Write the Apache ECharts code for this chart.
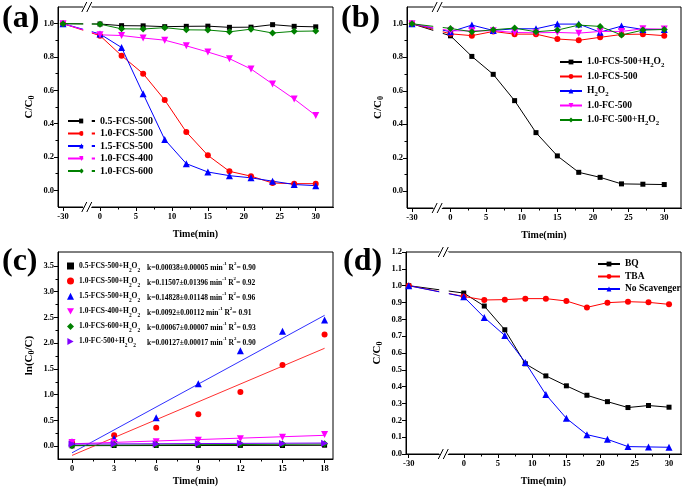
<!DOCTYPE html>
<html><head><meta charset="utf-8">
<script src="https://cdn.jsdelivr.net/npm/echarts@6.0.0/dist/echarts.min.js"></script>
<style>html,body{margin:0;padding:0;background:#fff}#c{width:685px;height:497px}</style>
</head><body><div id="c"></div>
<script>
// ---------- DATA ----------
const timeAB = [-30, 0, 3, 6, 9, 12, 15, 18, 21, 24, 27, 30];
// (a)
const a_names = ['0.5-FCS-500', '1.0-FCS-500', '1.5-FCS-500', '1.0-FCS-400', '1.0-FCS-600'];
const a_fcs05_500 = [1.0, 0.998, 0.988, 0.987, 0.982, 0.984, 0.985, 0.978, 0.979, 0.994, 0.984, 0.981];
const a_fcs10_500 = [1.0, 0.928, 0.808, 0.700, 0.542, 0.350, 0.210, 0.114, 0.085, 0.044, 0.040, 0.040];
const a_fcs15_500 = [1.0, 0.938, 0.857, 0.579, 0.305, 0.160, 0.110, 0.088, 0.075, 0.055, 0.035, 0.028];
const a_fcs10_400 = [1.0, 0.933, 0.929, 0.914, 0.901, 0.867, 0.830, 0.790, 0.728, 0.638, 0.548, 0.449];
const a_fcs10_600 = [1.0, 0.997, 0.969, 0.968, 0.976, 0.963, 0.962, 0.951, 0.967, 0.944, 0.954, 0.956];
// (b)
const b_names = ['1.0-FCS-500+H2O2', '1.0-FCS-500', 'H2O2', '1.0-FC-500', '1.0-FC-500+H2O2'];
const b_fcs500_h2o2 = [1.0, 0.928, 0.805, 0.698, 0.541, 0.350, 0.211, 0.113, 0.083, 0.044, 0.042, 0.040];
const b_fcs500 = [1.0, 0.940, 0.929, 0.954, 0.938, 0.938, 0.909, 0.901, 0.919, 0.936, 0.938, 0.929];
const b_h2o2 = [1.0, 0.952, 0.992, 0.960, 0.970, 0.970, 0.998, 0.998, 0.950, 0.986, 0.966, 0.966];
const b_fc500 = [1.0, 0.958, 0.958, 0.958, 0.948, 0.946, 0.948, 0.944, 0.954, 0.954, 0.970, 0.968];
const b_fc500_h2o2 = [1.0, 0.972, 0.952, 0.964, 0.974, 0.952, 0.962, 0.992, 0.984, 0.933, 0.962, 0.966];
// (c)
const timeC = [0, 3, 6, 9, 12, 15, 18];
const c_names = ['0.5-FCS-500+H2O2', '1.0-FCS-500+H2O2', '1.5-FCS-500+H2O2', '1.0-FCS-400+H2O2', '1.0-FCS-600+H2O2', '1.0-FC-500+H2O2'];
const c_kTexts = ['k=0.00038±0.00005 min^-1 R^2= 0.90', 'k=0.11507±0.01396 min^-1 R^2= 0.92', 'k=0.14828±0.01148 min^-1 R^2= 0.96',
                  'k=0.0092±0.00112 min^-1 R^2= 0.91', 'k=0.00067±0.00007 min^-1 R^2= 0.93', 'k=0.00127±0.00017 min^-1 R^2= 0.90'];
const c_fcs05_500 = [0.005, 0.012, 0.013, 0.015, 0.015, 0.012, 0.018];
const c_fcs10_500 = [0.070, 0.210, 0.355, 0.620, 1.050, 1.575, 2.170];
const c_fcs15_500 = [0.084, 0.150, 0.550, 1.210, 1.850, 2.230, 2.450];
const c_fcs10_400 = [0.071, 0.071, 0.084, 0.116, 0.142, 0.174, 0.226];
const c_fcs10_600 = [0.005, 0.030, 0.033, 0.025, 0.038, 0.040, 0.046];
const c_fc500 = [0.043, 0.043, 0.040, 0.051, 0.057, 0.053, 0.056];
const fitX = [0, 18];
const fit_fcs05_500 = [0.009, 0.016];
const fit_fcs10_500 = [-0.18, 1.90];
const fit_fcs15_500 = [-0.13, 2.54];
const fit_fcs10_400 = [0.045, 0.21];
const fit_fcs10_600 = [0.016, 0.040];
const fit_fc500 = [0.040, 0.060];
// (d)
const d_names = ['BQ', 'TBA', 'No Scavenger'];
const d_bq = [1.0, 0.956, 0.879, 0.738, 0.536, 0.464, 0.405, 0.349, 0.311, 0.276, 0.288, 0.278];
const d_tba = [1.0, 0.936, 0.915, 0.917, 0.923, 0.923, 0.909, 0.871, 0.899, 0.905, 0.901, 0.889];
const d_none = [1.0, 0.934, 0.811, 0.704, 0.544, 0.353, 0.212, 0.115, 0.087, 0.044, 0.042, 0.040];
// ticks
const ticksXAB = [-30, 0, 5, 10, 15, 20, 25, 30];
const minorXAB = [2.5, 7.5, 12.5, 17.5, 22.5, 27.5];
const ticksYAB = [0, 0.2, 0.4, 0.6, 0.8, 1.0];
const minorYAB = [0.1, 0.3, 0.5, 0.7, 0.9];
const ticksXC = [0, 3, 6, 9, 12, 15, 18];
const minorXC = [1.5, 4.5, 7.5, 10.5, 13.5, 16.5];
const ticksYC = [0, 0.5, 1.0, 1.5, 2.0, 2.5, 3.0, 3.5];
const minorYC = [0.25, 0.75, 1.25, 1.75, 2.25, 2.75, 3.25];
const ticksYD = [0, 0.1, 0.2, 0.3, 0.4, 0.5, 0.6, 0.7, 0.8, 0.9, 1.0, 1.1, 1.2];

// ---------- STYLE ----------
const FONT = 'Liberation Serif';
const BLACK = '#000000', RED = '#ff0000', BLUE = '#0000ff', MAG = '#ff00ff', GREEN = '#008000', PURPLE = '#8000ff';
const TRI_DOWN = 'path://M0,0 L10,0 L5,9 Z';
const TRI_RIGHT = 'path://M0,0 L9,5 L0,10 Z';

function zip(xs, ys) { return xs.map((x, i) => [x, ys[i]]); }
// series names carry a panel prefix so that legends of different panels stay separate
const P = (p, n) => p + '|' + n;
const strip = n => n.slice(n.indexOf('|') + 1);

function xAxes(g, min, max, major, minor, brk, nameGap) {
  const mk = () => {
    const o = { type: 'value', gridIndex: g, min: min, max: max, position: 'bottom', splitLine: { show: false } };
    if (brk) {
      o.breaks = [{ start: brk[0], end: brk[1], gap: brk[2] }];
      o.breakArea = { show: true, itemStyle: { color: '#fff', borderColor: '#fff', borderWidth: 0, opacity: 1 }, zigzagAmplitude: 0, expandOnClick: false };
    }
    return o;
  };
  const main = Object.assign(mk(), {
    name: 'Time(min)', nameLocation: 'middle', nameGap: nameGap,
    nameTextStyle: { fontFamily: FONT, fontWeight: 'bold', fontSize: 10, color: '#000' },
    axisLine: { show: true, onZero: false, lineStyle: { color: '#000', width: 1 } },
    axisTick: { show: true, inside: false, length: 4, customValues: major, lineStyle: { color: '#000', width: 1 } },
    axisLabel: { customValues: major, fontFamily: FONT, fontWeight: 'bold', fontSize: 8.5, color: '#000', margin: 5 }
  });
  const mn = Object.assign(mk(), {
    axisLine: { show: false, onZero: false }, axisLabel: { show: false },
    axisTick: { show: true, inside: false, length: 2.5, customValues: minor, lineStyle: { color: '#000', width: 1 } }
  });
  return [main, mn];
}
function yAxes(g, min, max, major, minor, name, nameGap, dec) {
  const main = {
    type: 'value', gridIndex: g, min: min, max: max, position: 'left', splitLine: { show: false },
    name: name, nameLocation: 'middle', nameGap: nameGap, nameRotate: 90,
    nameTextStyle: { fontFamily: FONT, fontWeight: 'bold', fontSize: 11, color: '#000',
      rich: { m: { fontFamily: FONT, fontWeight: 'bold', fontSize: 11, lineHeight: 14, color: '#000' },
              s: { fontFamily: FONT, fontWeight: 'bold', fontSize: 8, lineHeight: 8, padding: [7, 0, 0, 0], verticalAlign: 'bottom', color: '#000' } } },
    axisLine: { show: true, onZero: false, lineStyle: { color: '#000', width: 1 } },
    axisTick: { show: true, inside: false, length: 4, customValues: major, lineStyle: { color: '#000', width: 1 } },
    axisLabel: { customValues: major, fontFamily: FONT, fontWeight: 'bold', fontSize: 8.5, color: '#000', margin: 4, formatter: v => v.toFixed(dec) }
  };
  const mn = {
    type: 'value', gridIndex: g, min: min, max: max, position: 'left', splitLine: { show: false },
    axisLine: { show: false, onZero: false }, axisLabel: { show: false },
    axisTick: { show: !!minor, inside: false, length: 2.5, customValues: minor || [], lineStyle: { color: '#000', width: 1 } }
  };
  return [main, mn];
}

function lineS(g, name, xs, ys, color, symbol, size) {
  return { type: 'line', name: name, xAxisIndex: 2 * g, yAxisIndex: 2 * g, data: zip(xs, ys),
    symbol: symbol, symbolSize: size, showAllSymbol: true,
    lineStyle: { color: color, width: 1 }, itemStyle: { color: color }, emphasis: { disabled: true }, z: 3 };
}
function scatterS(g, name, xs, ys, color, symbol, size) {
  return { type: 'scatter', name: name, xAxisIndex: 2 * g, yAxisIndex: 2 * g, data: zip(xs, ys),
    symbol: symbol, symbolSize: size, itemStyle: { color: color, opacity: 1 }, emphasis: { disabled: true }, z: 4 };
}
function fitS(g, xs, ys, color) {
  return { type: 'line', name: '_fit_' + color, xAxisIndex: 2 * g, yAxisIndex: 2 * g, data: zip(xs, ys),
    showSymbol: false, symbol: 'none', lineStyle: { color: color, width: 1 }, emphasis: { disabled: true }, z: 3 };
}

function chem(s) {
  return ('{m|' + s.replace(/H2O2/g, 'H}{s|2}{m|O}{s|2}{m|') + '}').replace(/\{m\|\}/g, '');
}
function kRich(s) {
  return ('{m|' + s.replace(/\^(-1|2)/g, '}{p|$1}{m|') + '}').replace(/\{m\|\}/g, '');
}
function richSet(fs) {
  return {
    m: { fontFamily: FONT, fontWeight: 'bold', fontSize: fs, lineHeight: 14, color: '#000', verticalAlign: 'middle' },
    s: { fontFamily: FONT, fontWeight: 'bold', fontSize: fs * 0.72, lineHeight: 7, padding: [7, 0, 0, 0], verticalAlign: 'bottom', color: '#000' },
    p: { fontFamily: FONT, fontWeight: 'bold', fontSize: fs * 0.65, lineHeight: 7, padding: [0, 0, 7, 0], verticalAlign: 'top', color: '#000' }
  };
}

const brkA = [-27.2, -1.2, 1.14];
const brkB = [-27.0, -1.2, 1.2];
const brkD = [-25.5, -2.3, 1.24];

const xAxis = [].concat(
  xAxes(0, -30.7, 32.4, ticksXAB, minorXAB, brkA, 22),
  xAxes(1, -30.7, 32.35, ticksXAB, minorXAB, brkB, 22),
  xAxes(2, -1, 18.6, ticksXC, minorXC, null, 17),
  xAxes(3, -30.4, 31.75, ticksXAB, minorXAB, brkD, 22)
);
const yAxis = [].concat(
  yAxes(0, -0.1, 1.1, ticksYAB, minorYAB, '{m|C/C}{s|0}', 22, 1),
  yAxes(1, -0.1, 1.1, ticksYAB, minorYAB, '{m|C/C}{s|0}', 22, 1),
  yAxes(2, -0.25, 3.77, ticksYC, minorYC, '{m|ln(C}{s|0}{m|/C)}', 22, 1),
  yAxes(3, 0, 1.2, ticksYD, null, '{m|C/C}{s|0}', 22, 1)
);

const series = [
  lineS(0, P('a', a_names[0]), timeAB, a_fcs05_500, BLACK, 'rect', 5),
  lineS(0, P('a', a_names[1]), timeAB, a_fcs10_500, RED, 'circle', 6),
  lineS(0, P('a', a_names[2]), timeAB, a_fcs15_500, BLUE, 'triangle', 7),
  lineS(0, P('a', a_names[3]), timeAB, a_fcs10_400, MAG, TRI_DOWN, 7),
  lineS(0, P('a', a_names[4]), timeAB, a_fcs10_600, GREEN, 'diamond', 7),

  lineS(1, P('b', b_names[0]), timeAB, b_fcs500_h2o2, BLACK, 'rect', 5),
  lineS(1, P('b', b_names[1]), timeAB, b_fcs500, RED, 'circle', 6),
  lineS(1, P('b', b_names[2]), timeAB, b_h2o2, BLUE, 'triangle', 7),
  lineS(1, P('b', b_names[3]), timeAB, b_fc500, MAG, TRI_DOWN, 7),
  lineS(1, P('b', b_names[4]), timeAB, b_fc500_h2o2, GREEN, 'diamond', 7),

  fitS(2, fitX, fit_fcs05_500, BLACK),
  fitS(2, fitX, fit_fcs10_500, '#ff3030'),
  fitS(2, fitX, fit_fcs15_500, '#3030ff'),
  fitS(2, fitX, fit_fcs10_400, MAG),
  fitS(2, fitX, fit_fcs10_600, GREEN),
  fitS(2, fitX, fit_fc500, PURPLE),
  scatterS(2, P('c', c_names[0]), timeC, c_fcs05_500, BLACK, 'rect', 5),
  scatterS(2, P('c', c_names[1]), timeC, c_fcs10_500, RED, 'circle', 6),
  scatterS(2, P('c', c_names[2]), timeC, c_fcs15_500, BLUE, 'triangle', 7),
  scatterS(2, P('c', c_names[3]), timeC, c_fcs10_400, MAG, TRI_DOWN, 7),
  scatterS(2, P('c', c_names[4]), timeC, c_fcs10_600, GREEN, 'diamond', 7),
  scatterS(2, P('c', c_names[5]), timeC, c_fc500, PURPLE, TRI_RIGHT, 7),

  lineS(3, P('d', d_names[0]), timeAB, d_bq, BLACK, 'rect', 5),
  lineS(3, P('d', d_names[1]), timeAB, d_tba, RED, 'circle', 6),
  lineS(3, P('d', d_names[2]), timeAB, d_none, BLUE, 'triangle', 7)
];

const kMap = {};
c_names.forEach((n, i) => { kMap[n] = c_kTexts[i]; });

const legBase = { orient: 'vertical', itemGap: 0, selectedMode: false, inactiveColor: '#000', padding: 0 };
const legend = [
  Object.assign({}, legBase, { data: a_names.map(n => P('a', n)), left: 67, top: 115, itemWidth: 27, itemHeight: 6, itemGap: 0.5,
    formatter: strip, textStyle: { fontFamily: FONT, fontWeight: 'bold', fontSize: 10, color: '#000', lineHeight: 12 } }),
  Object.assign({}, legBase, { data: b_names.map(n => P('b', n)), left: 559, top: 55, itemWidth: 22, itemHeight: 6, itemGap: 2.5,
    formatter: n => chem(strip(n)), textStyle: { rich: richSet(9.5) } }),
  Object.assign({}, legBase, { data: c_names.map(n => P('c', n)), left: 67, top: 261, itemWidth: 7, itemHeight: 7, itemGap: 3.1, textGap: 10,
    formatter: n => chem(strip(n)), textStyle: { rich: richSet(7.5) } }),
  Object.assign({}, legBase, { data: c_names.map(n => P('c', n)), left: 142, top: 261, itemWidth: 0, itemHeight: 7, itemGap: 3.1, icon: 'none', textGap: 0,
    formatter: n => kRich(kMap[strip(n)]), textStyle: { rich: richSet(7.5) } }),
  Object.assign({}, legBase, { data: d_names.map(n => P('d', n)), left: 597, top: 258, itemWidth: 22, itemHeight: 6, itemGap: 0.5,
    formatter: strip, textStyle: { fontFamily: FONT, fontWeight: 'bold', fontSize: 9.5, color: '#000', lineHeight: 12 } })
];

const titleStyle = { fontFamily: FONT, fontWeight: 'bold', fontSize: 32, color: '#000' };
const title = [
  { text: '(a)', left: 2, top: 3, padding: 0, textStyle: titleStyle },
  { text: '(b)', left: 341, top: 3, padding: 0, textStyle: titleStyle },
  { text: '(c)', left: 2, top: 246, padding: 0, textStyle: titleStyle },
  { text: '(d)', left: 343, top: 246, padding: 0, textStyle: titleStyle }
];

const gridBase = { show: true, borderColor: '#000', borderWidth: 1, backgroundColor: 'transparent', containLabel: false };
const grid = [
  Object.assign({ left: 58, top: 7, width: 275, height: 200 }, gridBase),
  Object.assign({ left: 407, top: 7, width: 274, height: 201 }, gridBase),
  Object.assign({ left: 58, top: 252, width: 275, height: 207 }, gridBase),
  Object.assign({ left: 406, top: 252, width: 275, height: 202 }, gridBase)
];

const chart = echarts.init(document.getElementById('c'), null, { renderer: 'canvas', width: 685, height: 497 });
chart.setOption({ animation: false, backgroundColor: '#fff', title, grid, xAxis, yAxis, series, legend, tooltip: { show: false } });

// axis-break "//" marks, positioned through the axes' own scales
const breakDefs = [[0, brkA, -0.1, 1.1], [1, brkB, -0.1, 1.1], [3, brkD, 0, 1.2]];
const graphic = [];
breakDefs.forEach(([g, brk, y0, y1]) => {
  const ps = chart.convertToPixel({ xAxisIndex: 2 * g }, brk[0]);
  const pe = chart.convertToPixel({ xAxisIndex: 2 * g }, brk[1]);
  const mid = (ps + pe) / 2;
  [chart.convertToPixel({ yAxisIndex: 2 * g }, y0), chart.convertToPixel({ yAxisIndex: 2 * g }, y1)].forEach(y => {
    graphic.push({ type: 'rect', shape: { x: mid - 4, y: y - 1.5, width: 8, height: 3 }, style: { fill: '#fff' }, z: 100 });
    [-3, 2].forEach(dx => {
      graphic.push({ type: 'line', shape: { x1: mid + dx - 2.5, y1: y + 5, x2: mid + dx + 2.5, y2: y - 5 },
        style: { stroke: '#000', lineWidth: 1 }, z: 101 });
    });
  });
});
chart.setOption({ graphic });
</script>
</body></html>
